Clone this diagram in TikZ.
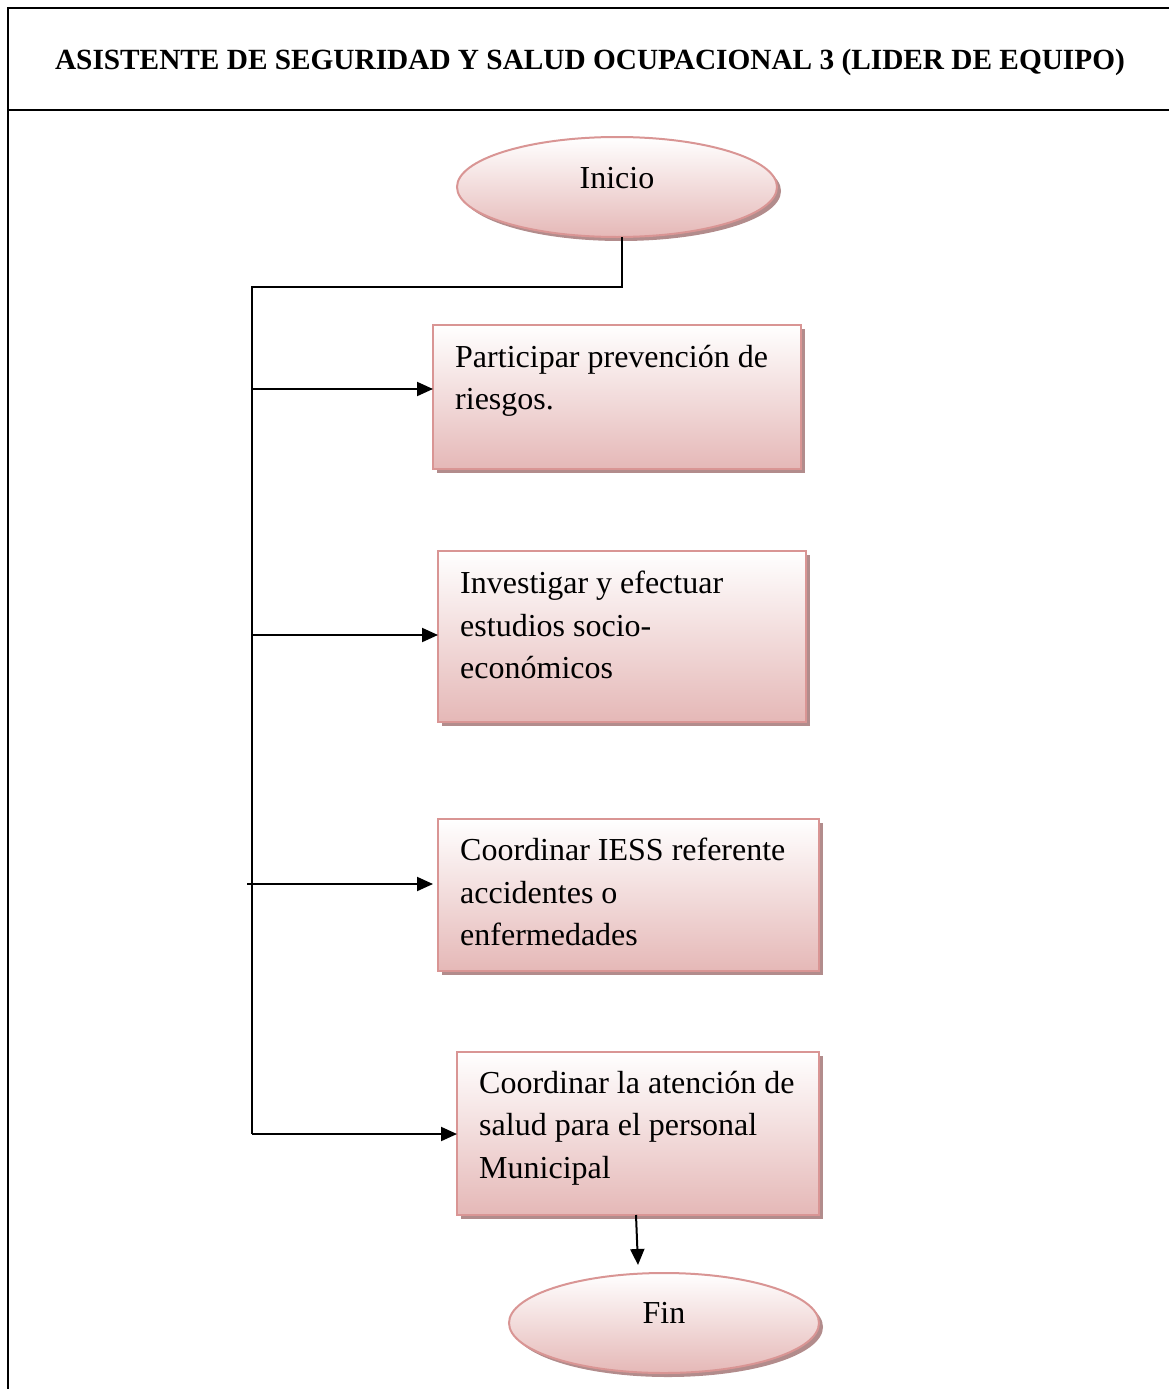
\documentclass[tikz,border=0pt]{standalone}
\usepackage{fontspec}
\setmainfont{Liberation Serif}
\usetikzlibrary{shapes.geometric,shadows,arrows.meta}
\definecolor{pinkb}{RGB}{217,149,148}
\definecolor{pinkf}{RGB}{229,184,183}
\definecolor{shadowc}{RGB}{178,140,140}
\begin{document}
\begin{tikzpicture}[x=1pt,y=-1pt,
  frame/.style={line width=2pt},
  shape base/.style={draw=pinkb, line width=2pt, top color=white, bottom color=pinkf,
    drop shadow={shadow xshift=4pt, shadow yshift=-4pt, fill=shadowc, opacity=1},
    inner sep=0pt, outer sep=0pt},
  box/.style={shape base, rectangle, anchor=north west},
  term/.style={shape base, ellipse},
  txt/.style={font=\fontsize{32}{42.5}\selectfont, align=left, inner sep=0pt, anchor=north west},
  ttxt/.style={font=\fontsize{32}{42.5}\selectfont, inner sep=0pt, anchor=base},
  conn/.style={line width=2pt},
  arr/.style={conn, -{Triangle[length=16pt,width=14pt]}}]
\useasboundingbox (0,0) rectangle (1169,1389);
% frame
\draw[frame] (1169,8) -- (8,8) -- (8,1389);
\draw[frame] (8,110) -- (1169,110);
\node[font=\fontsize{29.3}{34}\selectfont\bfseries, inner sep=0pt, anchor=base] (title) at (590,70)
  {ASISTENTE DE SEGURIDAD Y SALUD OCUPACIONAL 3 (LIDER DE EQUIPO)};
% terminals
\node[term, minimum width=320pt, minimum height=100pt] (inicio) at (617,187) {};
\node[ttxt] (inicioT) at (617,188) {Inicio};
\node[term, minimum width=310pt, minimum height=100pt] (fin) at (664,1323) {};
\node[ttxt] (finT) at (664,1323) {Fin};
% boxes
\node[box, minimum width=368pt, minimum height=144pt] (b1) at (433,325) {};
\node[box, minimum width=368pt, minimum height=171pt] (b2) at (438,551) {};
\node[box, minimum width=381pt, minimum height=152pt] (b3) at (438,819) {};
\node[box, minimum width=362pt, minimum height=163pt] (b4) at (457,1052) {};
\node[txt] (t1) at (455,345) {Participar prevención de\\riesgos.};
\node[txt] (t2) at (460,571) {Investigar y efectuar\\estudios socio-\\económicos};
\node[txt] (t3) at (460,838) {Coordinar IESS referente\\accidentes o\\enfermedades};
\node[txt] (t4) at (479,1071) {Coordinar la atención de\\salud para el personal\\Municipal};
% connectors
\coordinate (ttop) at (252,287);
\coordinate (tbot) at (252,1134);
\coordinate (a1) at (252,389);
\coordinate (a2) at (252,635);
\coordinate (a3) at (247,884);
\coordinate (finin) at (638,1265);
\draw[conn] ([xshift=5pt]inicio.south) |- (ttop) -- (tbot);
\draw[arr] (a1) -- (a1 -| b1.west);
\draw[arr] (a2) -- (a2 -| b2.west);
\draw[arr] (a3) -- (a3 -| b1.west);
\draw[arr] (tbot) -- (tbot -| b4.west);
\draw[arr] ([xshift=-2pt]b4.south) -- (finin);
\end{tikzpicture}
\end{document}
